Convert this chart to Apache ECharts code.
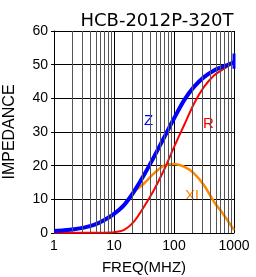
<!DOCTYPE html>
<html>
<head>
<meta charset="utf-8">
<script src="https://cdn.jsdelivr.net/npm/echarts@6/dist/echarts.min.js"></script>
<style>
  html, body { margin: 0; padding: 0; background: #fff; }
  #main { width: 256px; height: 277px; }
</style>
</head>
<body>
<div id="main"></div>
<script>
// impedance curves (six points per decade)
var freq = [1, 1.47, 2.15, 3.16, 4.64, 6.81, 10, 14.7, 21.5, 31.6, 46.4, 68.1, 100, 147, 215, 316, 464, 681, 1000];
var zVals = [0.6, 0.8, 1.1, 1.6, 2.4, 3.8, 5.7, 8.3, 12.3, 17.2, 22.6, 28.3, 34, 39.4, 43.4, 46.3, 48.3, 49.5, 50.8];
var rVals = [0.1, 0.1, 0.1, 0.1, 0.1, 0.1, 0.2, 0.9, 3.4, 7.8, 12.8, 18.7, 25.5, 32, 38.4, 43.4, 46.8, 48.8, 50.5];
var xlVals = [0.6, 0.8, 1.1, 1.6, 2.4, 3.8, 5.7, 8.3, 12.2, 14.7, 17.7, 20.0, 20.5, 19.7, 17.7, 14.2, 9.3, 5.3, 0.9];
// little vertical tick at the end of the Z trace
var zEndFreq = [1000, 1000];
var zEndVals = [48.8, 53.3];
var minorFreq = [2, 3, 4, 5, 6, 7, 8, 9, 20, 30, 40, 50, 60, 70, 80, 90, 200, 300, 400, 500, 600, 700, 800, 900];

function pairs(xs, vals) {
    return xs.map(function (f, i) { return [f, vals[i]]; });
}

var myChart = echarts.init(document.getElementById('main'));
var option = {
    animation: false,
    backgroundColor: '#ffffff',
    title: {
        text: 'HCB-2012P-320T',
        left: 152,
        top: 7,
        textAlign: 'center',
        textStyle: { fontFamily: 'DejaVu Sans', fontSize: 18, fontWeight: 'normal', color: '#000' }
    },
    grid: { left: 54, right: 22, top: 31, bottom: 44, outerBoundsMode: 'none', containLabel: false },
    xAxis: {
        type: 'log',
        logBase: 10,
        min: 1,
        max: 1000,
        name: 'FREQ(MHZ)',
        nameLocation: 'middle',
        nameGap: 27,
        nameTextStyle: { fontFamily: 'Liberation Sans', fontSize: 15, color: '#000' },
        axisLine: { lineStyle: { color: '#000', width: 1 } },
        axisTick: { show: false },
        axisLabel: { fontFamily: 'Liberation Sans', fontSize: 14, color: '#000', margin: 6,
            formatter: function (v) { return String(Math.round(v)); } },
        splitLine: { show: true, lineStyle: { color: '#000', width: 1 } }
    },
    yAxis: {
        type: 'value',
        min: 0,
        max: 60,
        interval: 10,
        name: 'IMPEDANCE',
        nameLocation: 'middle',
        nameRotate: 90,
        nameGap: 36,
        nameTextStyle: { fontFamily: 'Liberation Sans', fontSize: 16, color: '#000' },
        axisLine: { show: true, lineStyle: { color: '#000', width: 1 } },
        axisTick: { show: true, length: 3, lineStyle: { color: '#000' } },
        axisLabel: { fontFamily: 'Liberation Sans', fontSize: 14, color: '#000', margin: 6 },
        splitLine: { show: true, lineStyle: { color: '#000', width: 1 } }
    },
    graphic: [
        { type: 'text', left: 144, top: 113, style: { text: 'Z', fill: '#0000ff', font: '15px "Liberation Sans"' } },
        { type: 'text', left: 203, top: 116, style: { text: 'R', fill: '#ff0000', font: '15px "Liberation Sans"' } },
        { type: 'text', left: 185, top: 188, style: { text: 'XL', fill: '#ff8800', font: '15px "Liberation Sans"' } }
    ],
    series: [
        {
            name: 'grid',
            type: 'line',
            data: [],
            silent: true,
            markLine: {
                silent: true,
                symbol: 'none',
                label: { show: false },
                lineStyle: { color: '#555', width: 1, type: 'solid' },
                data: minorFreq.map(function (f) { return { xAxis: f }; })
            }
        },
        {
            name: 'XL',
            type: 'line',
            smooth: 0.3,
            symbol: 'none',
            lineStyle: { color: '#ff8800', width: 2.5 },
            data: pairs(freq, xlVals)
        },
        {
            name: 'R',
            type: 'line',
            smooth: 0.3,
            symbol: 'none',
            lineStyle: { color: '#ff0000', width: 2 },
            data: pairs(freq, rVals)
        },
        {
            name: 'Z',
            type: 'line',
            smooth: 0.3,
            symbol: 'none',
            lineStyle: { color: '#0000ff', width: 4 },
            data: pairs(freq, zVals)
        },
        {
            name: 'Zend',
            type: 'line',
            symbol: 'none',
            lineStyle: { color: '#0000ff', width: 3 },
            data: pairs(zEndFreq, zEndVals)
        }
    ]
};
myChart.setOption(option);
</script>
</body>
</html>
